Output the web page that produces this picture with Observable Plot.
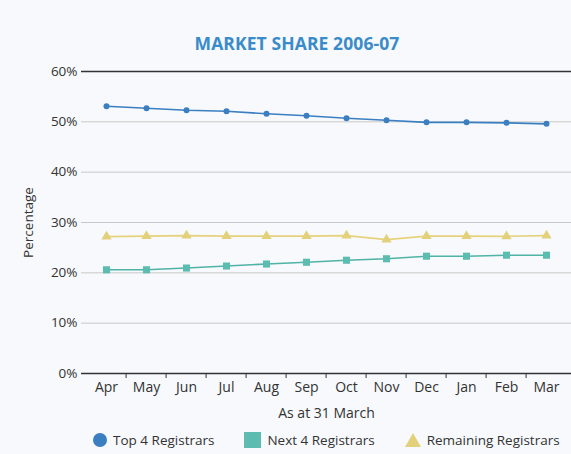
<!DOCTYPE html>
<html>
<head>
<meta charset="utf-8">
<script src="https://cdn.jsdelivr.net/npm/d3@7"></script>
<script src="https://cdn.jsdelivr.net/npm/@observablehq/plot@0.6"></script>
<style>
  html, body { margin: 0; padding: 0; background: #f7f9fc; }
  #wrap { position: relative; width: 571px; height: 454px; overflow: hidden; font-family: "Open Sans", sans-serif; }
  #title { position: absolute; left: 0; width: 594px; top: 31px; text-align: center; color: #3a8bc9; font-weight: 700; font-size: 17.5px; letter-spacing: 0.1px; }
  #chart { position: absolute; left: 0; top: 0; }
  #legend { position: absolute; top: 431px; left: 92px; font-size: 13.5px; color: #333; display: flex; align-items: center; white-space: nowrap; }
  #legend .item { display: flex; align-items: center; }
  #legend svg { margin-right: 5px; }
</style>
</head>
<body>
<div id="wrap">
  <div id="chart"></div>
  <div id="title">MARKET SHARE 2006-07</div>
  <div id="legend"></div>
</div>
<script>
const months = ["Apr","May","Jun","Jul","Aug","Sep","Oct","Nov","Dec","Jan","Feb","Mar"];
const top4 = [53.1, 52.7, 52.3, 52.1, 51.6, 51.2, 50.7, 50.3, 49.9, 49.9, 49.8, 49.6];
const next4 = [20.6, 20.6, 20.95, 21.35, 21.75, 22.1, 22.5, 22.8, 23.3, 23.3, 23.5, 23.5];
const remaining = [27.2, 27.3, 27.4, 27.3, 27.3, 27.3, 27.4, 26.6, 27.3, 27.3, 27.25, 27.4];
const yTicks = [0, 10, 20, 30, 40, 50, 60];
const gridTicks = [10, 20, 30, 40, 50];

const seriesNames = ["Top 4 Registrars", "Next 4 Registrars", "Remaining Registrars"];
const colors = ["#3b7fc1", "#4fb3a6", "#e6d27c"];
const markerColors = ["#3b7fc1", "#5bbcaf", "#e3d07a"];
const symbols = ["circle", "square", "triangle"];

const rows = [];
[top4, next4, remaining].forEach((vals, i) => {
  vals.forEach((v, j) => rows.push({series: seriesNames[i], month: months[j], value: v}));
});

const W = 571, H = 454, ML = 81, MR = 0, MT = 71, MB = 81;
const bw = (W - ML - MR) / months.length;
const font = "Open Sans, sans-serif";

const marks = [
  Plot.gridY(gridTicks, {stroke: "#c8c8c8", strokeOpacity: 1, strokeWidth: 1}),
  Plot.ruleY([0, 60], {stroke: "#333", strokeWidth: 1.3}),
  Plot.axisY(yTicks, {tickSize: 0, tickPadding: 4, tickFormat: d => d + "%", fontSize: 13.5, fill: "#333",
    label: "Percentage", labelAnchor: "center", labelArrow: "none", labelOffset: 58}),
  Plot.axisX(months.slice(1), {tickSize: 5, text: null, dx: -bw / 2, stroke: "#333", label: null}),
  Plot.axisX(months, {tickSize: 0, tickPadding: 9, fontSize: 14, fill: "#333",
    label: "As at 31 March", labelAnchor: "center", labelArrow: "none", labelOffset: 44})
];
const dotR = [3, 4, 3.8];
seriesNames.forEach((s, i) => {
  const d = rows.filter(r => r.series === s);
  marks.push(Plot.line(d, {x: "month", y: "value", stroke: colors[i], strokeWidth: 1.6}));
  marks.push(Plot.dot(d, {x: "month", y: "value", symbol: symbols[i], fill: markerColors[i], r: dotR[i], stroke: "none"}));
});

const chart = Plot.plot({
  width: W, height: H,
  marginLeft: ML, marginRight: MR, marginTop: MT, marginBottom: MB,
  style: {background: "transparent", fontFamily: font, fontSize: "14px", color: "#333"},
  x: {type: "band", domain: months, padding: 0, axis: null},
  y: {domain: [0, 60], axis: null},
  marks
});
document.getElementById("chart").appendChild(chart);

// legend
const legend = document.getElementById("legend");
const legendShapes = [
  `<svg width="16" height="16"><circle cx="8" cy="8" r="7" fill="${markerColors[0]}"/></svg>`,
  `<svg width="18" height="16"><rect x="0" y="0" width="17" height="16" fill="${markerColors[1]}"/></svg>`,
  `<svg width="18" height="16"><polygon points="9,1 17,15 1,15" fill="${markerColors[2]}"/></svg>`
];
const gaps = [0, 30, 29];
seriesNames.forEach((s, i) => {
  const el = document.createElement("div");
  el.className = "item";
  el.style.marginLeft = gaps[i] + "px";
  el.innerHTML = legendShapes[i] + `<span>${s}</span>`;
  legend.appendChild(el);
});
</script>
</body>
</html>
